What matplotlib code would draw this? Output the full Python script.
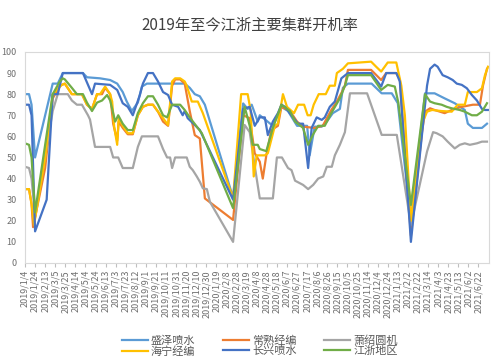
import pandas as pd
import matplotlib
matplotlib.use('Agg')
import matplotlib.pyplot as plt

plt.rcParams['font.family'] = ['Noto Sans CJK SC', 'DejaVu Sans']

# 盛泽喷水
shengze = [("2019-01-04", 80), ("2019-01-12", 80), ("2019-01-17", 75), ("2019-01-24", 50), ("2019-02-28", 85),
           ("2019-03-10", 85), ("2019-03-20", 90), ("2019-04-29", 90), ("2019-05-07", 88), ("2019-06-02", 87.5),
           ("2019-06-22", 86.7), ("2019-07-06", 85), ("2019-07-17", 81), ("2019-07-25", 76.5), ("2019-08-04", 72),
           ("2019-08-16", 76), ("2019-08-24", 83.6), ("2019-09-03", 85), ("2019-11-17", 85), ("2019-11-27", 83),
           ("2019-12-07", 80), ("2019-12-17", 79), ("2019-12-27", 75), ("2020-02-21", 31), ("2020-03-12", 75.6),
           ("2020-03-21", 73), ("2020-03-29", 75), ("2020-04-10", 67), ("2020-04-14", 70), ("2020-05-10", 65),
           ("2020-05-27", 74), ("2020-06-09", 72), ("2020-06-27", 65), ("2020-07-17", 65), ("2020-07-22", 51),
           ("2020-08-01", 64.6), ("2020-08-15", 64.6), ("2020-08-25", 67), ("2020-09-06", 71), ("2020-09-20", 73),
           ("2020-09-26", 83), ("2020-10-06", 85), ("2020-11-22", 85), ("2020-12-12", 80.4), ("2021-01-01", 80.4),
           ("2021-01-13", 75.7), ("2021-02-08", 20), ("2021-03-08", 80.4), ("2021-03-27", 80.4), ("2021-04-16", 78),
           ("2021-05-06", 75.7), ("2021-05-26", 72.5), ("2021-06-01", 66), ("2021-06-11", 64), ("2021-06-29", 64),
           ("2021-07-09", 66)]

# 常熟经编
changshu = [("2019-01-04", 35), ("2019-01-12", 35), ("2019-01-17", 28), ("2019-01-20", 17), ("2019-02-13", 45),
            ("2019-02-28", 78), ("2019-03-14", 84), ("2019-03-24", 85), ("2019-04-07", 80), ("2019-04-27", 80),
            ("2019-05-07", 75), ("2019-05-17", 73), ("2019-05-27", 80), ("2019-06-06", 80), ("2019-06-12", 83),
            ("2019-06-22", 80), ("2019-06-28", 66), ("2019-07-06", 58), ("2019-07-09", 67), ("2019-07-17", 64),
            ("2019-07-27", 61), ("2019-08-06", 61), ("2019-08-16", 70), ("2019-08-26", 74), ("2019-09-05", 75),
            ("2019-09-15", 75), ("2019-09-25", 71.7), ("2019-10-05", 67), ("2019-10-15", 65), ("2019-10-23", 84),
            ("2019-10-29", 87), ("2019-11-08", 87), ("2019-11-17", 85), ("2019-11-27", 72), ("2019-12-07", 60.6),
            ("2019-12-17", 59), ("2019-12-27", 30.6), ("2020-02-21", 20.4), ("2020-03-12", 70), ("2020-03-25", 68.6),
            ("2020-04-04", 52), ("2020-04-14", 48), ("2020-04-20", 40), ("2020-04-27", 51), ("2020-05-07", 63),
            ("2020-05-20", 65), ("2020-05-27", 74), ("2020-06-13", 72), ("2020-06-27", 67), ("2020-07-09", 64.6),
            ("2020-08-01", 64), ("2020-08-17", 65), ("2020-09-03", 72.5), ("2020-09-14", 76.5), ("2020-09-24", 81),
            ("2020-09-30", 84), ("2020-10-06", 91.5), ("2020-11-21", 91.5), ("2020-12-11", 86.7), ("2020-12-21", 90),
            ("2021-01-10", 90), ("2021-01-17", 87), ("2021-02-08", 13), ("2021-03-02", 62), ("2021-03-08", 71.7),
            ("2021-03-18", 73.3), ("2021-03-27", 72.5), ("2021-04-16", 71), ("2021-04-30", 72.5), ("2021-05-10", 73.3),
            ("2021-05-20", 74), ("2021-06-11", 75), ("2021-06-25", 75), ("2021-07-01", 84), ("2021-07-09", 92)]

# 萧绍圆机
xiaoshao = [("2019-01-04", 45.6), ("2019-01-12", 45), ("2019-01-17", 40), ("2019-01-24", 22), ("2019-02-28", 72),
            ("2019-03-10", 80), ("2019-03-30", 80), ("2019-04-07", 77), ("2019-04-17", 75), ("2019-04-27", 75),
            ("2019-05-09", 70), ("2019-05-13", 68), ("2019-05-23", 55), ("2019-06-22", 55), ("2019-06-28", 50),
            ("2019-07-08", 50), ("2019-07-17", 45), ("2019-08-06", 45), ("2019-08-16", 55), ("2019-08-24", 60),
            ("2019-09-25", 60), ("2019-10-05", 54), ("2019-10-13", 50), ("2019-10-19", 50), ("2019-10-23", 45),
            ("2019-10-29", 50), ("2019-11-21", 50), ("2019-11-27", 45.6), ("2019-12-03", 44), ("2019-12-11", 41),
            ("2019-12-17", 38.5), ("2019-12-23", 35.4), ("2019-12-31", 35), ("2020-01-06", 29), ("2020-02-21", 10),
            ("2020-03-15", 65.4), ("2020-03-25", 62), ("2020-04-04", 46), ("2020-04-14", 30.6), ("2020-05-10", 30.6),
            ("2020-05-18", 50), ("2020-05-28", 50), ("2020-06-09", 45), ("2020-06-16", 44), ("2020-06-23", 39),
            ("2020-07-09", 37), ("2020-07-19", 35), ("2020-07-29", 37), ("2020-08-08", 40), ("2020-08-18", 41),
            ("2020-08-25", 45.6), ("2020-09-04", 45.6), ("2020-09-10", 51), ("2020-09-20", 56), ("2020-09-30", 62),
            ("2020-10-10", 80.4), ("2020-11-13", 80.4), ("2020-12-12", 60.7), ("2021-01-11", 60.7), ("2021-02-08", 18),
            ("2021-03-12", 52.8), ("2021-03-24", 62), ("2021-03-31", 61.5), ("2021-04-12", 60), ("2021-04-22", 57.5),
            ("2021-05-06", 54.3), ("2021-05-16", 56), ("2021-05-26", 56.7), ("2021-06-05", 56), ("2021-06-19", 56.7),
            ("2021-06-29", 57.5), ("2021-07-09", 57.5)]

# 海宁经编
haining = [("2019-01-04", 35), ("2019-01-12", 35), ("2019-01-17", 28), ("2019-01-22", 18), ("2019-02-13", 50),
           ("2019-02-28", 80), ("2019-03-18", 84.4), ("2019-03-24", 85), ("2019-04-07", 80), ("2019-04-27", 80),
           ("2019-05-07", 75), ("2019-05-17", 73), ("2019-05-27", 80), ("2019-06-02", 80), ("2019-06-12", 83.6),
           ("2019-06-22", 80), ("2019-06-26", 76.5), ("2019-06-30", 64.6), ("2019-07-06", 56), ("2019-07-09", 68.6),
           ("2019-07-17", 65), ("2019-07-27", 61.5), ("2019-08-06", 61.5), ("2019-08-16", 70), ("2019-08-26", 74),
           ("2019-09-05", 75), ("2019-09-15", 75), ("2019-09-25", 71.7), ("2019-10-05", 68.6), ("2019-10-15", 65.4),
           ("2019-10-23", 86), ("2019-10-29", 87.5), ("2019-11-08", 87.5), ("2019-11-17", 86), ("2019-11-21", 84),
           ("2019-12-01", 76.5), ("2019-12-13", 76.5), ("2019-12-23", 71), ("2020-02-21", 30.6), ("2020-03-08", 80),
           ("2020-03-21", 80), ("2020-03-27", 72), ("2020-04-02", 41), ("2020-04-08", 51), ("2020-04-24", 51),
           ("2020-04-30", 52), ("2020-05-14", 65), ("2020-05-20", 66), ("2020-05-30", 80), ("2020-06-07", 74),
           ("2020-06-21", 71), ("2020-06-29", 75), ("2020-07-11", 75), ("2020-07-18", 70), ("2020-07-24", 70),
           ("2020-07-30", 75), ("2020-08-09", 80), ("2020-08-23", 80), ("2020-08-31", 84), ("2020-09-10", 84),
           ("2020-09-14", 90), ("2020-09-26", 92), ("2020-10-06", 94.6), ("2020-11-21", 95.4), ("2020-12-01", 93),
           ("2020-12-11", 90.7), ("2020-12-24", 95), ("2021-01-10", 95), ("2021-01-20", 84), ("2021-01-27", 70),
           ("2021-02-08", 20), ("2021-03-04", 67), ("2021-03-12", 71.7), ("2021-03-22", 72.5), ("2021-04-10", 72),
           ("2021-04-30", 71.7), ("2021-05-12", 75), ("2021-05-26", 75), ("2021-06-01", 81), ("2021-06-19", 81),
           ("2021-06-29", 82.8), ("2021-07-05", 89), ("2021-07-11", 93)]

# 长兴喷水
changxing = [("2019-01-04", 75), ("2019-01-12", 75), ("2019-01-17", 70), ("2019-01-24", 15), ("2019-02-16", 30),
             ("2019-02-28", 80), ("2019-03-10", 80), ("2019-03-20", 90), ("2019-04-29", 90), ("2019-05-17", 80),
             ("2019-05-23", 85), ("2019-06-22", 84.4), ("2019-07-06", 82), ("2019-07-17", 75.7), ("2019-07-27", 74),
             ("2019-08-06", 70), ("2019-08-20", 79.6), ("2019-08-26", 85), ("2019-09-05", 90), ("2019-09-15", 90),
             ("2019-09-25", 86), ("2019-10-05", 81), ("2019-10-15", 79.6), ("2019-10-23", 75), ("2019-11-04", 74),
             ("2019-11-13", 70), ("2019-11-17", 72), ("2019-11-23", 68.6), ("2019-12-07", 65.4), ("2019-12-17", 63),
             ("2020-02-21", 30), ("2020-03-12", 73), ("2020-03-25", 74), ("2020-04-04", 65), ("2020-04-14", 69),
             ("2020-04-24", 69), ("2020-04-30", 60.6), ("2020-05-10", 67), ("2020-05-20", 71), ("2020-05-27", 75),
             ("2020-06-03", 74), ("2020-06-19", 69), ("2020-06-29", 66), ("2020-07-09", 66), ("2020-07-19", 45),
             ("2020-07-26", 64), ("2020-08-05", 69), ("2020-08-15", 67.8), ("2020-08-21", 69), ("2020-08-31", 74),
             ("2020-09-10", 76.5), ("2020-09-23", 87.5), ("2020-10-06", 90), ("2020-11-21", 90), ("2020-12-11", 83.6),
             ("2020-12-21", 90), ("2021-01-10", 90), ("2021-01-17", 86), ("2021-02-08", 10), ("2021-03-12", 84),
             ("2021-03-18", 92), ("2021-03-27", 94), ("2021-04-02", 93), ("2021-04-12", 89), ("2021-04-22", 88),
             ("2021-05-02", 86.7), ("2021-05-10", 85), ("2021-05-20", 84.4), ("2021-05-30", 82.8), ("2021-06-09", 79.6),
             ("2021-06-19", 77), ("2021-06-29", 73), ("2021-07-05", 72.5), ("2021-07-11", 72.5)]

# 江浙地区
jiangzhe = [("2019-01-04", 56.7), ("2019-01-12", 56), ("2019-01-17", 50), ("2019-01-24", 24), ("2019-02-28", 80),
            ("2019-03-14", 86), ("2019-03-20", 87.5), ("2019-03-24", 87), ("2019-04-07", 83), ("2019-04-17", 80),
            ("2019-04-29", 80), ("2019-05-07", 76), ("2019-05-17", 72), ("2019-05-27", 76), ("2019-06-06", 77),
            ("2019-06-16", 79.6), ("2019-06-22", 77), ("2019-07-02", 67), ("2019-07-08", 70), ("2019-07-17", 66),
            ("2019-07-27", 63), ("2019-08-06", 63), ("2019-08-16", 71), ("2019-08-26", 75.7), ("2019-09-05", 79),
            ("2019-09-15", 79), ("2019-09-25", 75), ("2019-10-05", 70), ("2019-10-13", 69), ("2019-10-23", 75),
            ("2019-11-08", 75), ("2019-11-17", 72.5), ("2019-11-27", 69), ("2019-12-11", 64.6), ("2019-12-21", 61.5),
            ("2020-02-21", 26), ("2020-03-15", 74), ("2020-03-25", 65), ("2020-03-31", 56), ("2020-04-10", 56),
            ("2020-04-14", 54), ("2020-04-27", 53), ("2020-05-10", 64), ("2020-05-27", 75), ("2020-06-13", 72),
            ("2020-06-23", 67), ("2020-07-09", 64), ("2020-07-19", 56), ("2020-07-29", 61), ("2020-08-08", 65),
            ("2020-08-21", 65), ("2020-09-03", 71), ("2020-09-20", 78), ("2020-09-30", 84), ("2020-10-06", 89),
            ("2020-11-21", 89), ("2020-12-11", 82), ("2020-12-24", 84.4), ("2021-01-07", 83.6), ("2021-01-14", 76),
            ("2021-02-08", 27.5), ("2021-03-08", 80), ("2021-03-18", 76.5), ("2021-03-27", 75.7), ("2021-04-10", 75),
            ("2021-04-20", 74), ("2021-04-30", 73.3), ("2021-05-16", 72.5), ("2021-05-26", 71.7), ("2021-06-09", 70),
            ("2021-06-19", 70), ("2021-06-29", 71.7), ("2021-07-09", 75.7)]

names = ["盛泽喷水", "常熟经编", "萧绍圆机", "海宁经编", "长兴喷水", "江浙地区"]
colors = ["#5B9BD5", "#ED7D31", "#A5A5A5", "#FFC000", "#4472C4", "#70AD47"]
all_series = [shengze, changshu, xiaoshao, haining, changxing, jiangzhe]

fig = plt.figure(figsize=(5, 3.62), dpi=100)
ax = fig.add_axes([0.05, 0.2735, 0.928, 0.583])

lines = {}
for name, data, c in zip(names, all_series, colors):
    df = pd.DataFrame(data, columns=['date', 'rate'])
    df['date'] = pd.to_datetime(df['date'])
    ln, = ax.plot(df['date'], df['rate'], color=c, lw=1.6, label=name)
    lines[name] = ln

# axis styling
ticks = pd.date_range('2019-01-04', '2021-06-22', freq='20D')
ax.set_xticks(ticks)
ax.set_xticklabels([f"{d.year}/{d.month}/{d.day}" for d in ticks], rotation=90,
                   fontsize=6.5, color='#6E6E6E')
ax.set_xlim(pd.Timestamp('2019-01-04'), pd.Timestamp('2021-07-13'))
ax.set_ylim(0, 100)
ax.set_yticks(range(0, 101, 10))
ax.tick_params(axis='y', labelsize=6.5, labelcolor='#6E6E6E', length=0, pad=6)
ax.tick_params(axis='x', length=3, color='#BFBFBF', pad=2)
for s in ax.spines.values():
    s.set_color('#D9D9D9')
    s.set_linewidth(0.8)

fig.text(0.5, 0.93, "2019年至今江浙主要集群开机率", ha='center', va='center',
         fontsize=11, color='#404040')

order = ["盛泽喷水", "海宁经编", "常熟经编", "长兴喷水", "萧绍圆机", "江浙地区"]
fig.legend([lines[n] for n in order], order, loc='center', bbox_to_anchor=(0.52, 0.045),
           ncol=3, frameon=False, fontsize=8, handlelength=2.3, columnspacing=2.5,
           labelspacing=0.05, handletextpad=0.3, labelcolor='#595959')

fig.savefig('out.png', dpi=100)
